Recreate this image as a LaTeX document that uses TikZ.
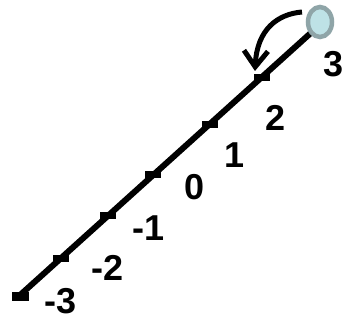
\documentclass[tikz,border=0pt]{standalone}
\usepackage{fontspec}
\setmainfont{Liberation Sans}
\usetikzlibrary{arrows.meta,shapes.geometric,calc}
\definecolor{ringc}{HTML}{8FA5A8}
\definecolor{fillc}{HTML}{BEE2E6}
\tikzset{
  lbl/.style={inner sep=0pt, anchor=center, font=\fontsize{36}{36}\selectfont\bfseries},
  tickbar/.style={fill=black, inner sep=0pt, minimum width=16pt, minimum height=7pt, rectangle},
  axis/.style={line width=6pt},
}
\begin{document}
\begin{tikzpicture}[x=1pt,y=1pt]
\useasboundingbox (0,0) rectangle (345,321);
\coordinate (A) at (19,25);
\coordinate (B) at (313,290);
\draw[axis] (A) -- (B);
\node[fill=black, inner sep=0pt, minimum width=17pt, minimum height=9pt] (bot) at (20,24) {};
\foreach \p/\n in {0.143/t1,0.304/t2,0.457/t3,0.648/t4,0.826/t5}{
  \node[tickbar] (\n) at ($(A)!\p!(B)$) {};
}
\node[ellipse, draw=ringc, line width=4.5pt, fill=fillc, minimum width=24pt, minimum height=30pt, inner sep=0pt] (top) at (320,299) {};
\draw[line width=5pt, -{Straight Barb[length=16pt,width=24pt]}] (302,309) .. controls (278,307) and (257,292) .. (255,250);
\node[lbl] (l3) at (334,257) {3};
\node[lbl] (l2) at (276,203) {2};
\node[lbl] (l1) at (235,166) {1};
\node[lbl] (l0) at (195,134) {0};
\node[lbl] (lm1) at (149,93) {-1};
\node[lbl] (lm2) at (108,53) {-2};
\node[lbl] (lm3) at (61,20) {-3};
\end{tikzpicture}
\end{document}
